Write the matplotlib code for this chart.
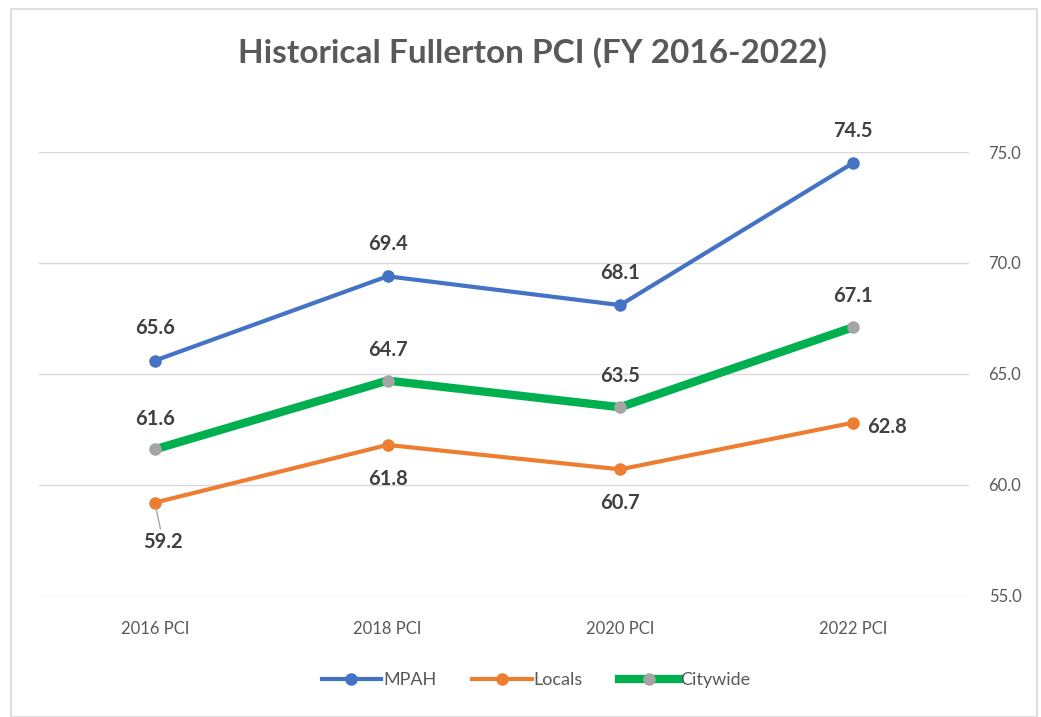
import matplotlib.pyplot as plt
from matplotlib.lines import Line2D

plt.rcParams['font.family'] = ['Lato', 'DejaVu Sans']

categories = ['2016 PCI', '2018 PCI', '2020 PCI', '2022 PCI']
mpah = [65.6, 69.4, 68.1, 74.5]
locals_ = [59.2, 61.8, 60.7, 62.8]
citywide = [61.6, 64.7, 63.5, 67.1]
yticks = [55.0, 60.0, 65.0, 70.0, 75.0]

fig = plt.figure(figsize=(10.41, 7.17), dpi=100)
# light chart border
fig.patches.append(plt.Rectangle((0.011, 0.0), 0.985, 0.988, transform=fig.transFigure,
                                 fill=False, edgecolor='#D9D9D9', linewidth=1.2))

ax = fig.add_axes([0.037, 0.169, 0.894, 0.619])
x = list(range(len(categories)))

ax.plot(x, mpah, color='#4472C4', lw=3, marker='o', ms=8, label='MPAH', clip_on=False, zorder=3)
ax.plot(x, locals_, color='#ED7D31', lw=3, marker='o', ms=8, label='Locals', clip_on=False, zorder=3)
ax.plot(x, citywide, color='#00B050', lw=6, marker='o', ms=8, mfc='#A5A5A5', mec='#A5A5A5',
        label='Citywide', clip_on=False, zorder=3)

ax.set_xlim(-0.5, 3.5)
ax.set_ylim(55, 75)
ax.set_xticks(x)
ax.set_xticklabels(categories)
ax.set_yticks(yticks)
ax.set_yticklabels([f'{v:.1f}' for v in yticks])
ax.yaxis.tick_right()
ax.tick_params(axis='both', length=0, labelsize=12, colors='#595959')
ax.tick_params(axis='y', pad=14)
ax.tick_params(axis='x', pad=18)
ax.grid(axis='y', color='#D9D9D9', lw=1)
ax.set_axisbelow(True)
for s in ax.spines.values():
    s.set_visible(False)

lab = dict(fontsize=14.5, fontweight='bold', color='#404040', ha='center')
for i, v in enumerate(mpah):
    ax.annotate(f'{v:.1f}', (i, v), xytext=(0, 16), textcoords='offset points', va='bottom', **lab)
for i, v in enumerate(citywide):
    ax.annotate(f'{v:.1f}', (i, v), xytext=(0, 15), textcoords='offset points', va='bottom', **lab)
# locals labels
ax.annotate(f'{locals_[0]:.1f}', (0, locals_[0]), xytext=(6, -21), textcoords='offset points',
            va='top', arrowprops=dict(arrowstyle='-', color='#A6A6A6', lw=1, shrinkA=0, shrinkB=4), **lab)
for i in (1, 2):
    ax.annotate(f'{locals_[i]:.1f}', (i, locals_[i]), xytext=(0, -17), textcoords='offset points',
                va='top', **lab)
lab_r = dict(lab)
lab_r['ha'] = 'left'
ax.annotate(f'{locals_[3]:.1f}', (3, locals_[3]), xytext=(10, -3), textcoords='offset points',
            va='center', **lab_r)

fig.text(0.511, 0.927, 'Historical Fullerton PCI (FY 2016-2022)', ha='center', va='center',
         fontsize=24, fontweight='bold', color='#595959')

handles = [Line2D([], [], color='#4472C4', lw=3, marker='o', ms=8),
           Line2D([], [], color='#ED7D31', lw=3, marker='o', ms=8),
           Line2D([], [], color='#00B050', lw=6, marker='o', ms=8, mfc='#A5A5A5', mec='#A5A5A5')]
fig.legend(handles, ['MPAH', 'Locals', 'Citywide'], loc='center', bbox_to_anchor=(0.515, 0.051),
           ncol=3, frameon=False, fontsize=13, labelcolor='#595959', handlelength=3.3,
           handletextpad=0.1, columnspacing=2.0)

fig.savefig('out.png', dpi=100)
